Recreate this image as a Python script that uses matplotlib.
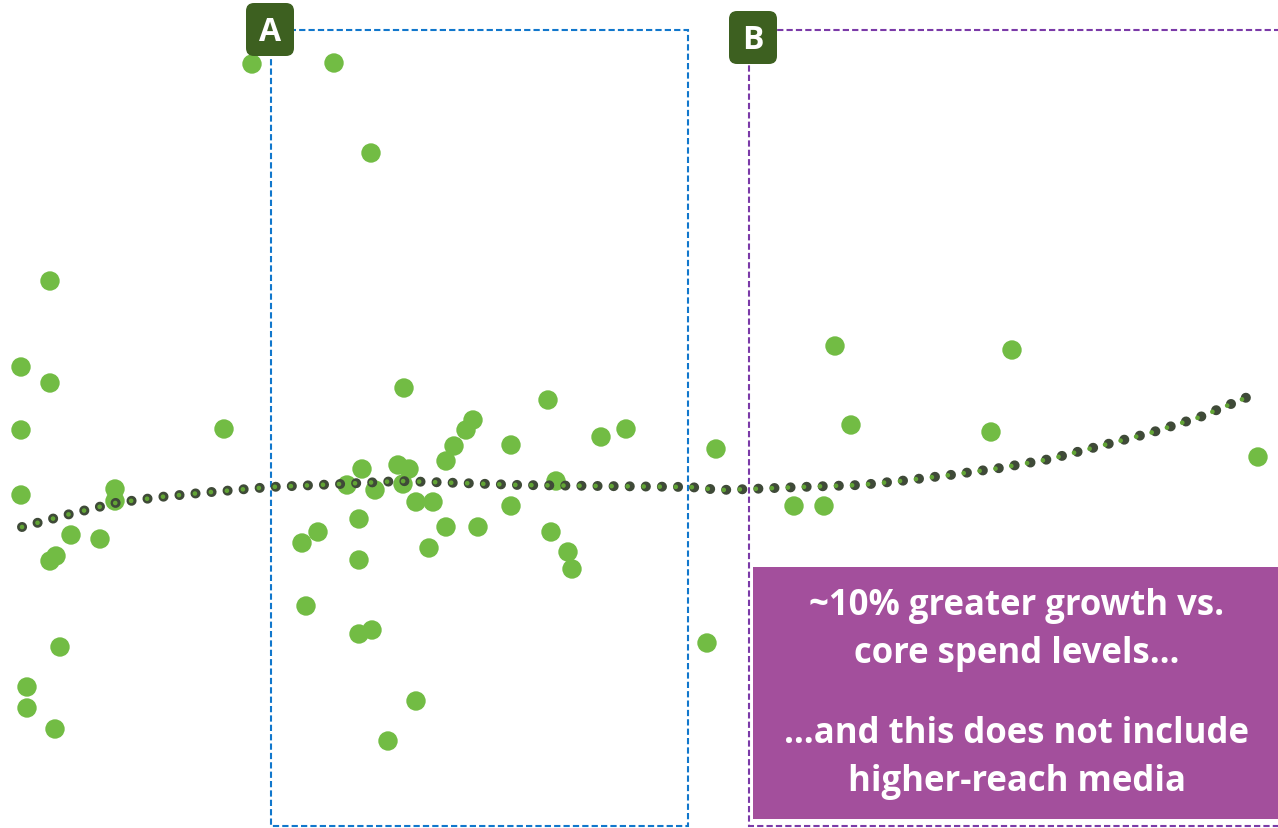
import matplotlib.pyplot as plt
from matplotlib.patches import Rectangle, FancyBboxPatch

# scatter points (x, y in picture units, y grows downward)
pt_x = [50, 21, 50, 21, 21, 115, 115, 71, 100, 50, 56, 60, 27, 27, 55, 224,
        252, 334, 371,
        404, 473, 466, 454, 446, 548, 511, 601, 626, 362, 398, 409, 347, 375,
        403, 416, 433, 511, 556, 359, 318, 302, 446, 478, 429, 359, 551, 568,
        572, 306, 359, 372, 416, 388, 716, 707,
        835, 1012, 851, 991, 1258, 794, 824]
pt_y = [282, 368, 384, 431, 496, 490, 502, 536, 540, 562, 557, 648, 688, 709, 730, 430,
        65, 64, 154,
        389, 421, 431, 447, 462, 401, 446, 438, 430, 470, 466, 470, 486, 491,
        485, 503, 503, 507, 482, 520, 533, 544, 528, 528, 549, 561, 533, 553,
        570, 607, 635, 631, 702, 742, 450, 644,
        347, 351, 426, 433, 458, 507, 507]

# trendline
trend_x = [22, 70, 115, 160, 200, 270, 340, 400, 460, 520, 600, 690, 720, 750,
           800, 860, 900, 950, 1000, 1050, 1100, 1150, 1200, 1250]
trend_y = [528, 515, 504, 498, 494, 488, 485, 482, 484, 486, 487, 488, 491, 490,
           488, 486, 482, 476, 469, 460, 447, 434, 418, 397]

callout_lines = ["~10% greater growth vs.", "core spend levels…",
                 "…and this does not include", "higher-reach media"]

fig = plt.figure(figsize=(12.78, 8.29), dpi=100)
ax = fig.add_axes([0, 0, 1, 1])
ax.set_xlim(0, 1278)
ax.set_ylim(829, 0)
ax.axis("off")

# zone rectangles
ax.add_patch(Rectangle((271, 31), 417, 796, fill=False, ec="#1177CC", lw=1.5,
                       ls=(0, (3, 1.5)), zorder=1))
ax.add_patch(Rectangle((749, 31), 540, 796, fill=False, ec="#7B3AA8", lw=1.5,
                       ls=(0, (3, 1.5)), zorder=1))

ax.scatter(pt_x, pt_y, s=195, color="#72BC44", edgecolors="none", zorder=2)

# dotted trendline: dark ring with green centre
ax.plot(trend_x, trend_y, color="#3F4A38", lw=7.2, ls=(0, (0.01, 1.6)),
        solid_capstyle="round", dash_capstyle="round", zorder=3)
ax.plot(trend_x, trend_y, color="#62A535", lw=3.4, ls=(0, (0.01, 3.388)),
        solid_capstyle="round", dash_capstyle="round", zorder=4)

# zone labels
for lx, ly, lab in [(246, 4, "A"), (729, 12, "B")]:
    ax.add_patch(FancyBboxPatch((lx, ly), 48, 53, boxstyle="round,pad=0,rounding_size=8",
                                fc="#3D6020", ec="none", zorder=5))
    ax.text(lx + 24, ly + 28, lab, color="white", fontsize=23, fontweight="bold",
            family="Open Sans", ha="center", va="center", zorder=6)

# callout box
ax.add_patch(Rectangle((753, 568), 530, 252, fc="#A34F9C", ec="none", zorder=5))
for ty, line in zip([606, 654, 734, 782], callout_lines):
    ax.text(1017, ty, line, color="white", fontsize=25, fontweight="bold",
            family="Open Sans", ha="center", va="center", zorder=6)

fig.savefig("out.png", dpi=100)
